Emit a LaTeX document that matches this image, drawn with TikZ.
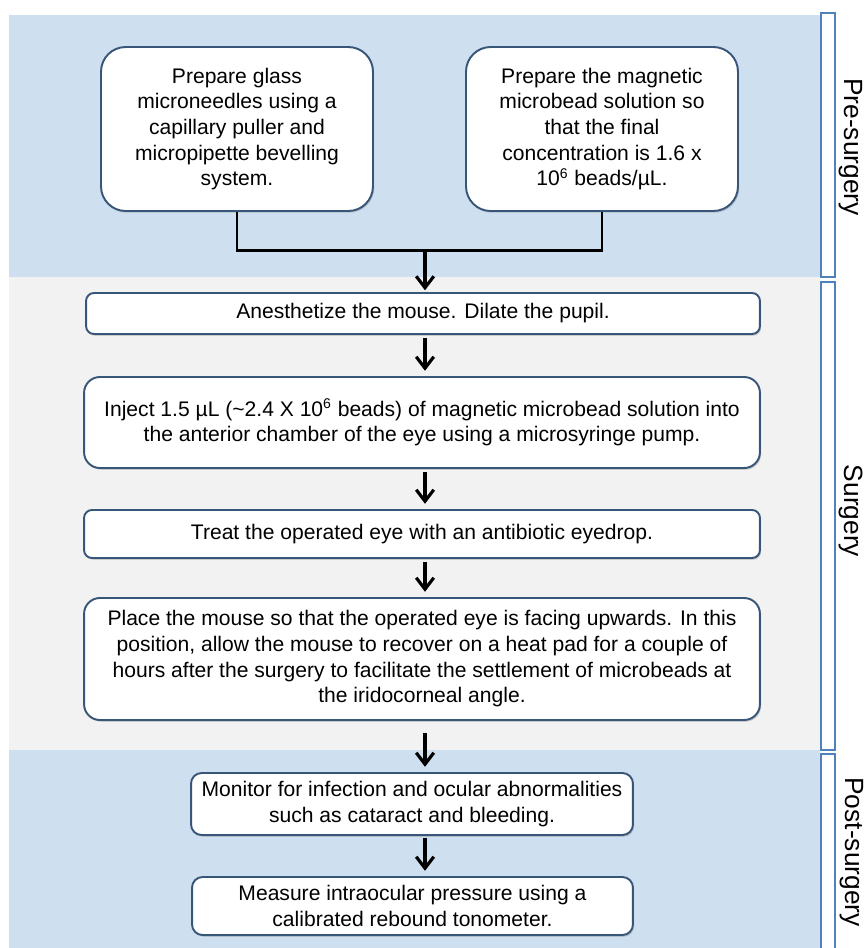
\documentclass[tikz,border=0pt]{standalone}
\usepackage{fontspec}
\setmainfont{Liberation Sans}
\usetikzlibrary{arrows.meta,shadows}
\definecolor{bandblue}{RGB}{206,223,240}
\definecolor{bandgray}{RGB}{242,242,242}
\definecolor{boxline}{RGB}{56,86,120}
\definecolor{tabline}{RGB}{79,129,189}
\tikzset{
  stepbox/.style={draw=boxline, line width=1.1pt, fill=white, rounded corners=4.5pt, align=center,
    font=\fontsize{12}{14.6}\selectfont, inner sep=0pt,
    drop shadow={opacity=0.35, shadow xshift=0.7pt, shadow yshift=-1pt}},
  flow/.style={line width=1.8pt, shorten <=2pt, shorten >=3pt,
    -{Straight Barb[length=6.5pt,width=10pt,line width=1.8pt]}},
  phasetab/.style={draw=tabline, line width=1.4pt, fill=white},
  phaselabel/.style={rotate=-90, font=\fontsize{15}{18}\selectfont}
}

\begin{document}
\begin{tikzpicture}[x=0.02cm, y=-0.02cm]
			%%%%% START %%%%%
			\useasboundingbox (0,0) rectangle (868,948);
			
			\fill[bandblue] (9,15) rectangle (820,277);
			\fill[bandgray] (9,277) rectangle (820,750);
			\fill[bandblue] (9,750) rectangle (820,948);
			
			\draw[phasetab] (821,13) rectangle (835,277);
			\draw[phasetab] (821,282) rectangle (835,750);
			\draw[phasetab] (821,754) rectangle (835,952);
			
			\node[phaselabel] (pre) at (851,147) {Pre-surgery};
			\node[phaselabel] (surg) at (851,511) {Surgery};
			\node[phaselabel] (post) at (852,852) {Post-surgery};
			
			\node[stepbox, rounded corners=14pt, minimum width=5.44cm, minimum height=3.28cm] (glass) at (237,129)
				{Prepare glass\\microneedles using a\\capillary puller and\\micropipette bevelling\\system.};
			\node[stepbox, rounded corners=14pt, minimum width=5.44cm, minimum height=3.28cm] (beads) at (602,129)
				{Prepare the magnetic\\microbead solution so\\that the final\\concentration is 1.6 x\\10\textsuperscript{6} beads/µL.};
			
			\node[stepbox, minimum width=13.48cm, minimum height=0.82cm] (anest) at (423,313.5)
				{Anesthetize the mouse. Dilate the pupil.};
			\node[stepbox, rounded corners=9pt, minimum width=13.52cm, minimum height=1.82cm] (inject) at (422,422.5)
				{Inject 1.5 µL (\textasciitilde 2.4 X 10\textsuperscript{6} beads) of magnetic microbead solution into\\the anterior chamber of the eye using a microsyringe pump.};
			\node[stepbox, minimum width=13.52cm, minimum height=0.96cm] (treat) at (422,534)
				{Treat the operated eye with an antibiotic eyedrop.};
			\node[stepbox, rounded corners=9pt, minimum width=13.52cm, minimum height=2.44cm] (place) at (422,659)
				{Place the mouse so that the operated eye is facing upwards. In this\\position, allow the mouse to recover on a heat pad for a couple of\\hours after the surgery to facilitate the settlement of microbeads at\\the iridocorneal angle.};
			
			\node[stepbox, rounded corners=6pt, minimum width=8.84cm, minimum height=1.24cm] (monitor) at (412,804)
				{Monitor for infection and ocular abnormalities\\such as cataract and bleeding.};
			\node[stepbox, rounded corners=6pt, minimum width=8.82cm, minimum height=1.16cm] (measure) at (412.5,906)
				{Measure intraocular pressure using a\\calibrated rebound tonometer.};
			
			% join of the two preparations
			\coordinate (join) at (425,250);
			\draw[line width=1.7pt] (glass.south) |- (join) -| (beads.south);
			\draw[flow, shorten <=0pt, shorten >=1pt] (join) -- (join |- anest.north);
			
			\draw[flow] (anest.south -| join) -- (join |- inject.north);
			\draw[flow] (inject.south -| join) -- (join |- treat.north);
			\draw[flow] (treat.south -| join) -- (join |- place.north);
			\draw[flow, shorten <=7pt] (place.south -| join) -- (join |- monitor.north);
			\draw[flow, shorten <=1pt] (monitor.south -| join) -- (join |- measure.north);
			
			%%%%% END %%%%%
\end{tikzpicture}
\end{document}
